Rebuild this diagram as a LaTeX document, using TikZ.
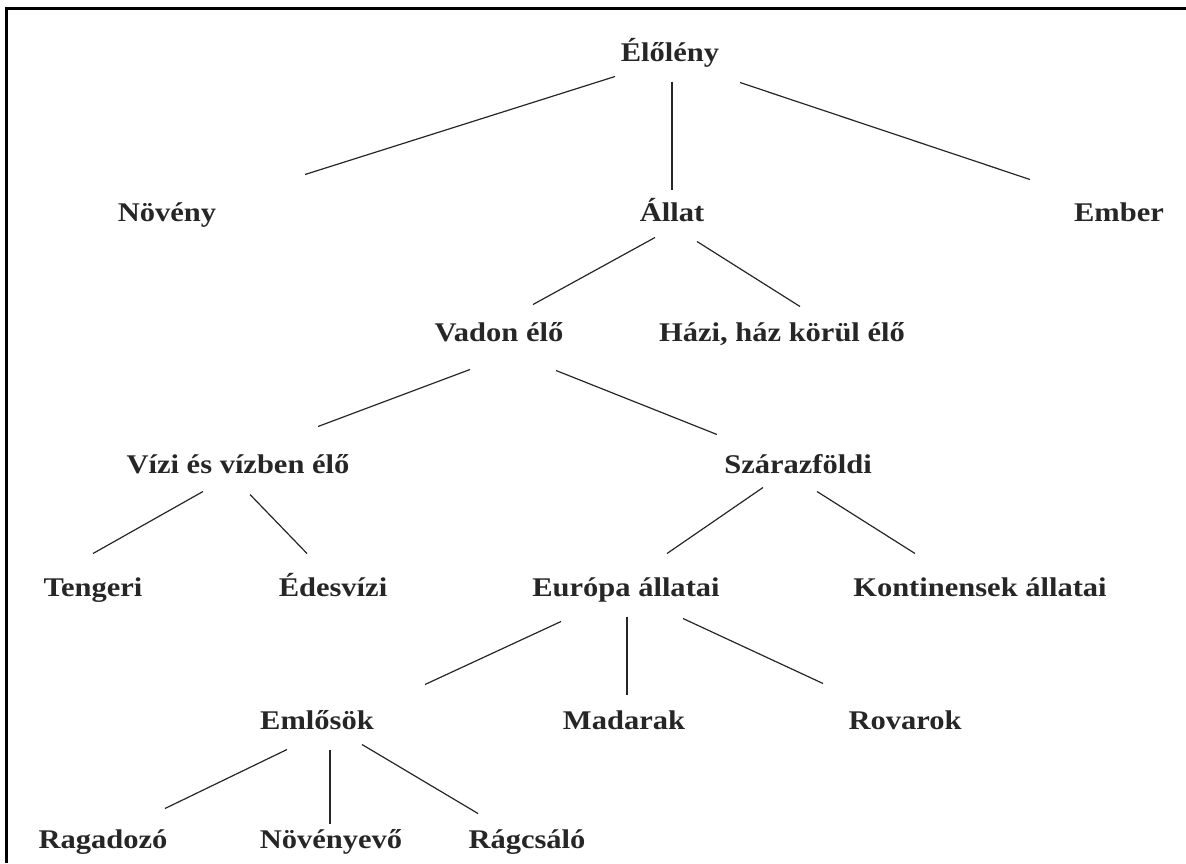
\documentclass[tikz,border=0pt]{standalone}
\usepackage{fontspec}
\setmainfont{Liberation Serif}[FakeStretch=1.13]
\usetikzlibrary{calc}
\tikzset{
  lbl/.style={anchor=base, inner sep=0pt, text height=0.75em, text depth=0.25em,
    font=\fontsize{27}{29}\selectfont\bfseries, text=black!85},
  link/.style={line width=1.2pt, black!85}
}
\begin{document}
\begin{tikzpicture}[x=1pt, y=-1pt]
\useasboundingbox (0,0) rectangle (1186,863);
% frame
\draw [line width=3pt] (6.5,863) -- (6.5,8) -- (1186,8);
% labels
\node [lbl] (elo) at (670,61) {Élőlény};
\node [lbl] (noveny) at (167,221) {Növény};
\node [lbl] (allat) at (672,221) {Állat};
\node [lbl] (ember) at (1119,221) {Ember};
\node [lbl] (vadon) at (499,341) {Vadon élő};
\node [lbl] (hazi) at (782,341) {Házi, ház körül élő};
\node [lbl] (vizi) at (238,473) {Vízi és vízben élő};
\node [lbl] (szaraz) at (798,473) {Szárazföldi};
\node [lbl] (tenger) at (93,596) {Tengeri};
\node [lbl] (edes) at (333,596) {Édesvízi};
\node [lbl] (europa) at (626,596) {Európa állatai};
\node [lbl] (kont) at (980,596) {Kontinensek állatai};
\node [lbl] (emlos) at (317,729) {Emlősök};
\node [lbl] (madar) at (624,729) {Madarak};
\node [lbl] (rovar) at (905,729) {Rovarok};
\node [lbl] (ragad) at (103,848) {Ragadozó};
\node [lbl] (novevo) at (331,848) {Növényevő};
\node [lbl] (ragcs) at (527,848) {Rágcsáló};
% links
\draw [link] ($(elo)+(-55,18)$) -- ($(noveny)+(138,-44)$);
\draw [link] ($(elo)+(2,23)$) -- ($(allat)+(0,-29)$);
\draw [link] ($(elo)+(70,24)$) -- ($(ember)+(-89,-39)$);
\draw [link] ($(allat)+(-17,19)$) -- ($(vadon)+(34,-34)$);
\draw [link] ($(allat)+(25,23)$) -- ($(hazi)+(18,-32)$);
\draw [link] ($(vadon)+(-29,31)$) -- ($(vizi)+(80,-44)$);
\draw [link] ($(vadon)+(57,32)$) -- ($(szaraz)+(-81,-36)$);
\draw [link] ($(vizi)+(-35,21)$) -- ($(tenger)+(0,-40)$);
\draw [link] ($(vizi)+(12,24)$) -- ($(edes)+(-26,-40)$);
\draw [link] ($(szaraz)+(-35,17)$) -- ($(europa)+(41,-40)$);
\draw [link] ($(szaraz)+(19,21)$) -- ($(kont)+(-65,-40)$);
\draw [link] ($(europa)+(-65,28)$) -- ($(emlos)+(108,-42)$);
\draw [link] ($(europa)+(1,23)$) -- ($(madar)+(3,-32)$);
\draw [link] ($(europa)+(57,25)$) -- ($(rovar)+(-82,-43)$);
\draw [link] ($(emlos)+(-30,23)$) -- ($(ragad)+(62,-37)$);
\draw [link] ($(emlos)+(13,23)$) -- ($(novevo)+(-1,-22)$);
\draw [link] ($(emlos)+(45,18)$) -- ($(ragcs)+(-49,-32)$);
\end{tikzpicture}
\end{document}
